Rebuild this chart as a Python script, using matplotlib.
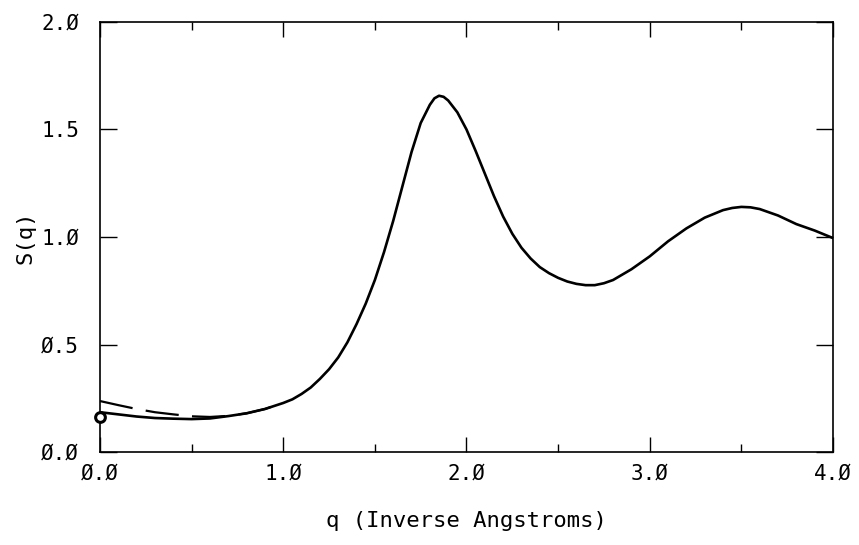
import numpy as np
import matplotlib
matplotlib.use('Agg')
import matplotlib.pyplot as plt
from matplotlib.ticker import MultipleLocator, FixedFormatter, FixedLocator

# structure factor, solid curve
q_solid = [0.00, 0.10, 0.20, 0.30, 0.40, 0.50, 0.60, 0.70, 0.80, 0.90,
           1.00, 1.05, 1.10, 1.15, 1.20, 1.25, 1.30, 1.35, 1.40, 1.45,
           1.50, 1.55, 1.60, 1.65, 1.70, 1.75, 1.80, 1.825, 1.85, 1.875,
           1.90, 1.95,
           2.00, 2.05, 2.10, 2.15, 2.20, 2.25, 2.30, 2.35, 2.40, 2.45,
           2.50, 2.55, 2.60, 2.65, 2.70, 2.75, 2.80, 2.90, 3.00, 3.10,
           3.20, 3.30, 3.40, 3.45, 3.50, 3.55, 3.60, 3.70, 3.80, 3.90,
           4.00]
s_solid = [0.185, 0.175, 0.165, 0.158, 0.155, 0.153, 0.156, 0.167, 0.180, 0.200,
           0.228, 0.245, 0.270, 0.300, 0.340, 0.385, 0.440, 0.510, 0.595, 0.690,
           0.800, 0.930, 1.075, 1.235, 1.395, 1.530, 1.615, 1.645, 1.657, 1.652,
           1.635, 1.580,
           1.500, 1.400, 1.295, 1.190, 1.095, 1.015, 0.950, 0.900, 0.860, 0.832,
           0.810, 0.793, 0.782, 0.776, 0.776, 0.785, 0.800, 0.850, 0.910, 0.980,
           1.040, 1.090, 1.125, 1.135, 1.140, 1.138, 1.130, 1.100, 1.060, 1.030,
           0.995]

# dashed curve (differs only at low q)
q_dash = [0.00, 0.10, 0.20, 0.30, 0.40, 0.50, 0.60, 0.70, 0.80, 0.90, 1.00]
s_dash = [0.237, 0.218, 0.200, 0.185, 0.175, 0.166, 0.163, 0.168, 0.180, 0.200, 0.228]

# single point at q = 0
q_pt = [0.0]
s_pt = [0.165]

xtick_vals = [0, 1, 2, 3, 4]
xtick_labels = ['Ø.Ø', '1.Ø', '2.Ø', '3.Ø', '4.Ø']
ytick_vals = [0, 0.5, 1.0, 1.5, 2.0]
ytick_labels = ['Ø.Ø', 'Ø.5', '1.Ø', '1.5', '2.Ø']

plt.rcParams['font.family'] = ['DejaVu Sans Mono', 'DejaVu Sans']

fig = plt.figure(figsize=(8.59, 5.45), dpi=100)
ax = fig.add_axes([100/859, 93/545, 733/859, 430/545])

ax.plot(q_solid, s_solid, color='black', lw=1.9, solid_joinstyle='round')
ax.plot(q_dash, s_dash, color='black', lw=1.6, linestyle=(0, (15, 6)))
ax.plot(q_pt, s_pt, 'o', ms=7, mfc='white', mec='black', mew=2.2, clip_on=False, zorder=5)

ax.set_xlim(0, 4)
ax.set_ylim(0, 2)

ax.xaxis.set_major_locator(FixedLocator(xtick_vals))
ax.xaxis.set_major_formatter(FixedFormatter(xtick_labels))
ax.xaxis.set_minor_locator(MultipleLocator(0.5))
ax.yaxis.set_major_locator(FixedLocator(ytick_vals))
ax.yaxis.set_major_formatter(FixedFormatter(ytick_labels))

ax.tick_params(axis='both', which='both', direction='in', top=True, right=True,
               width=1.0, color='black', labelsize=15)
ax.tick_params(axis='x', which='major', length=11, pad=8)
ax.tick_params(axis='x', which='minor', length=6)
ax.tick_params(axis='y', which='major', length=12, pad=15)

for sp in ax.spines.values():
    sp.set_linewidth(1.2)

ax.set_xlabel('q (Inverse Angstroms)', fontsize=16, labelpad=20)
ax.set_ylabel('S(q)', fontsize=16, labelpad=4)

fig.savefig('out.png', dpi=100)
